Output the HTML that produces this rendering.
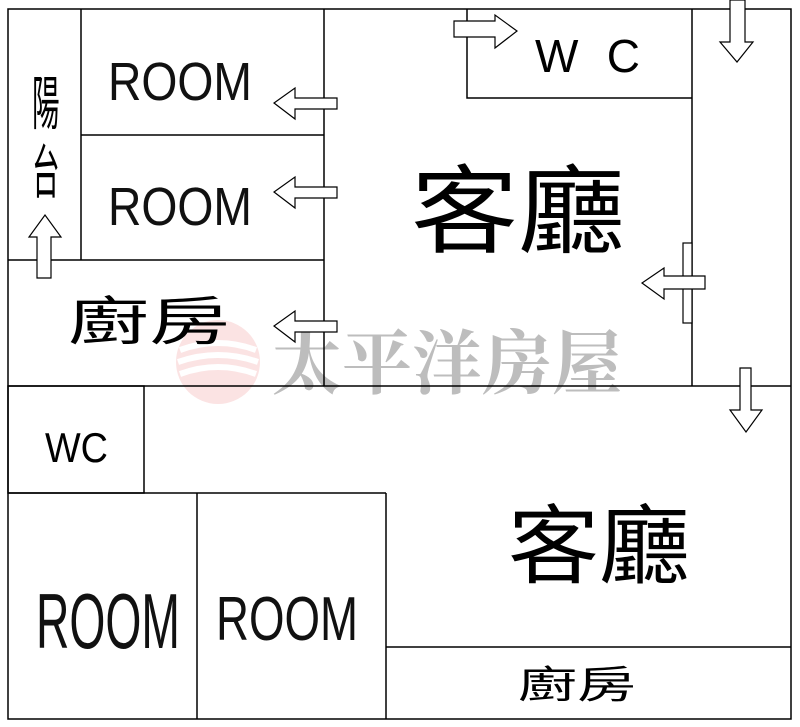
<!DOCTYPE html>
<html><head><meta charset="utf-8"><style>
html,body{margin:0;padding:0;background:#fff;width:800px;height:727px;overflow:hidden}
svg{display:block}
text{font-family:"Liberation Sans","Noto Sans CJK TC",sans-serif;fill:#000}
</style></head><body>
<svg width="800" height="727" viewBox="0 0 800 727" xmlns="http://www.w3.org/2000/svg">
<rect width="800" height="727" fill="#fff"/>
<g opacity="0.35">
<circle cx="218" cy="362" r="42" fill="#f4b0b0"/>
<path d="M180 350 q38 -14 76 0 M178 362 q40 -14 80 0 M180 374 q38 -14 76 0" stroke="#fff" stroke-width="6" fill="none"/>
</g>
<text x="272" y="388" font-size="70" font-weight="bold" style="font-family:'Noto Serif CJK SC','Liberation Serif',serif;fill:#bdbdbd" textLength="350" lengthAdjust="spacingAndGlyphs">太平洋房屋</text>
<g stroke="#000" stroke-width="1.5" fill="none">
<rect x="8" y="9" width="783" height="710"/>
<line x1="8" y1="386" x2="791" y2="386"/>
<line x1="81" y1="9" x2="81" y2="260"/>
<line x1="324" y1="9" x2="324" y2="386"/>
<line x1="81" y1="135" x2="324" y2="135"/>
<line x1="8" y1="260" x2="324" y2="260"/>
<polyline points="467,9 467,98 692,98"/>
<line x1="692" y1="9" x2="692" y2="386"/>
<rect x="8" y="386" width="136" height="107"/>
<line x1="8" y1="493" x2="386" y2="493"/>
<line x1="197" y1="493" x2="197" y2="719"/>
<line x1="386" y1="493" x2="386" y2="719"/>
<line x1="386" y1="647" x2="791" y2="647"/>
</g>
<g stroke="#000" stroke-width="1.2" fill="#fff">
<polygon points="337,98 295,98 295,88 274,103 295,119 295,109 337,109"/>
<polygon points="337,187 295,187 295,177 274,192 295,208 295,198 337,198"/>
<polygon points="337,321 295,321 295,311 274,326 295,342 295,332 337,332"/>
<polygon points="37,278 37,237 29,237 45,215 61,237 51,237 51,278"/>
<polygon points="454,21 495,21 495,15 517,31 495,48 495,37 454,37"/>
<polygon points="730,0 730,42 720,42 737,62 753,42 745,42 745,0"/>
<rect x="683" y="243" width="9" height="80"/>
<polygon points="705,276 664,276 664,268 642,283 664,299 664,289 705,289"/>
<polygon points="740,368 740,410 730,410 746,432 762,410 751,410 751,368"/>
</g>
<g style="fill:#111">
<text x="108" y="100" font-size="54" textLength="144" lengthAdjust="spacingAndGlyphs" style="fill:#111">ROOM</text>
<text x="108" y="225" font-size="54" textLength="144" lengthAdjust="spacingAndGlyphs" style="fill:#111">ROOM</text>
</g>
<text transform="translate(32,124) scale(0.92,1.95)" font-size="30">陽</text>
<text transform="translate(32,193) scale(0.92,1.95)" font-size="30">台</text>
<text x="68" y="340" font-size="52" textLength="162" lengthAdjust="spacingAndGlyphs">廚房</text>
<text x="535" y="72" font-size="46" textLength="105" lengthAdjust="spacing">WC</text>
<text x="411" y="245" font-size="96" textLength="214" lengthAdjust="spacingAndGlyphs">客廳</text>
<text x="45" y="462" font-size="42" textLength="63" lengthAdjust="spacingAndGlyphs">WC</text>
<text x="508" y="576" font-size="86" textLength="182" lengthAdjust="spacingAndGlyphs">客廳</text>
<text x="36" y="648" font-size="78" textLength="144" lengthAdjust="spacingAndGlyphs" style="fill:#111">ROOM</text>
<text x="216" y="640" font-size="62" textLength="142" lengthAdjust="spacingAndGlyphs" style="fill:#111">ROOM</text>
<text x="518" y="698" font-size="38" textLength="118" lengthAdjust="spacingAndGlyphs">廚房</text>
</svg>
</body></html>
